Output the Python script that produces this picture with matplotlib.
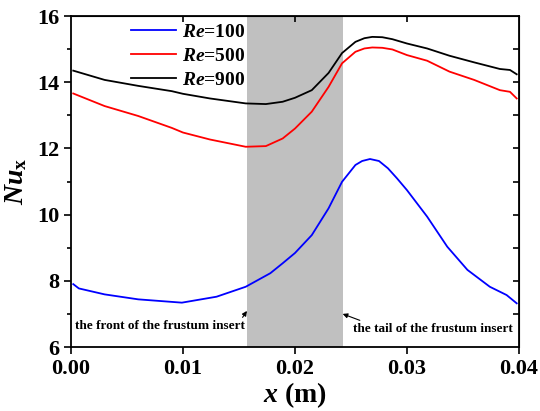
import matplotlib
matplotlib.use('Agg')
import matplotlib.pyplot as plt

plt.rcParams['font.family'] = 'Liberation Serif'
plt.rcParams['font.weight'] = 'bold'
plt.rcParams['mathtext.fontset'] = 'custom'
plt.rcParams['mathtext.rm'] = 'Liberation Serif:bold'
plt.rcParams['mathtext.it'] = 'Liberation Serif:italic:bold'
plt.rcParams['mathtext.bf'] = 'Liberation Serif:bold'

# insert region (m)
insert_start = 0.01571
insert_end = 0.02426

# Re=900 and Re=500 share x positions
x_hi = [0.0002, 0.003, 0.006, 0.009, 0.010, 0.0124, 0.0156, 0.0174, 0.0189, 0.020,
        0.0215, 0.0230, 0.0242, 0.0254, 0.0262, 0.0269, 0.0278, 0.0287, 0.030, 0.0318,
        0.0338, 0.0360, 0.0383, 0.0392, 0.0398]
nu_900 = [14.35, 14.07, 13.89, 13.73, 13.65, 13.51, 13.36, 13.34, 13.41, 13.53,
          13.76, 14.28, 14.88, 15.22, 15.33, 15.37, 15.36, 15.30, 15.17, 15.02,
          14.80, 14.60, 14.40, 14.37, 14.24]
nu_500 = [13.66, 13.28, 12.98, 12.62, 12.48, 12.27, 12.05, 12.07, 12.30, 12.60,
          13.11, 13.86, 14.57, 14.92, 15.02, 15.05, 15.04, 14.99, 14.82, 14.65,
          14.32, 14.07, 13.76, 13.71, 13.51]

x_100 = [0.0002, 0.0007, 0.003, 0.006, 0.0099, 0.0130, 0.0156, 0.0178, 0.0189, 0.020,
         0.0215, 0.0230, 0.0242, 0.0254, 0.0260, 0.0267, 0.0275, 0.0283, 0.0291, 0.030,
         0.0318, 0.0336, 0.0354, 0.0374, 0.0389, 0.0398]
nu_100 = [7.90, 7.77, 7.59, 7.44, 7.34, 7.52, 7.82, 8.23, 8.53, 8.84,
          9.38, 10.19, 10.99, 11.50, 11.62, 11.68, 11.62, 11.40, 11.10, 10.74,
          9.94, 9.03, 8.33, 7.82, 7.57, 7.32]

fig = plt.figure(figsize=(5.4, 4.11), dpi=100)
ax = fig.add_axes([0.1315, 0.1557, 0.8295, 0.8053])

ax.axvspan(insert_start, insert_end, color='#c0c0c0', lw=0, zorder=0)
ax.plot(x_100, nu_100, color='blue', lw=1.3, label='$Re$=100')
ax.plot(x_hi, nu_500, color='red', lw=1.3, label='$Re$=500')
ax.plot(x_hi, nu_900, color='black', lw=1.3, label='$Re$=900')

ax.set_xlim(0, 0.04)
ax.set_ylim(6, 16)
ax.set_xticks([0.00, 0.01, 0.02, 0.03, 0.04])
ax.set_xticklabels(['0.00', '0.01', '0.02', '0.03', '0.04'])
ax.set_yticks([6, 8, 10, 12, 14, 16])
ax.set_yticks([7, 9, 11, 13, 15], minor=True)
ax.tick_params(which='major', direction='out', length=5, width=1.2, labelsize=16)
ax.tick_params(which='minor', direction='out', length=3, width=1.2)
for lab in ax.get_xticklabels() + ax.get_yticklabels():
    lab.set_fontweight('bold')
for s in ax.spines.values():
    s.set_linewidth(1.3)

top = ax.secondary_xaxis('top')
top.set_xticks([0.01, 0.02, 0.03])
top.tick_params(direction='in', length=4, width=1.2, labeltop=False)
right = ax.secondary_yaxis('right')
right.set_yticks([7, 8, 9, 10, 11, 12, 13, 14, 15])
right.tick_params(direction='in', length=4, width=1.2, labelright=False)

ax.set_xlabel('$x$ (m)', fontsize=20, fontweight='bold', labelpad=1)
ax.set_ylabel('$Nu_{\\mathbf{x}}$', fontsize=20, fontweight='bold', labelpad=6)

ax.legend(loc='upper left', bbox_to_anchor=(0.095, 1.03), frameon=False,
          prop={'size': 14, 'weight': 'bold'}, handlelength=2.3,
          labelspacing=0.32, handletextpad=0.3)

ax.annotate('the front of the frustum insert', xy=(insert_start, 7.09), xytext=(0.00795, 6.63),
            fontsize=9.5, fontweight='bold', ha='center', va='center',
            arrowprops=dict(arrowstyle='-|>', color='black', lw=0.8,
                            shrinkA=0, shrinkB=0, mutation_scale=7,
                            relpos=(0.97, 0.9)))
ax.annotate('the tail of the frustum insert', xy=(insert_end, 7.0), xytext=(0.0323, 6.54),
            fontsize=9.5, fontweight='bold', ha='center', va='center',
            arrowprops=dict(arrowstyle='-|>', color='black', lw=0.8,
                            shrinkA=0, shrinkB=0, mutation_scale=7,
                            relpos=(0.05, 1.2)))

fig.savefig('out.png', dpi=100)
